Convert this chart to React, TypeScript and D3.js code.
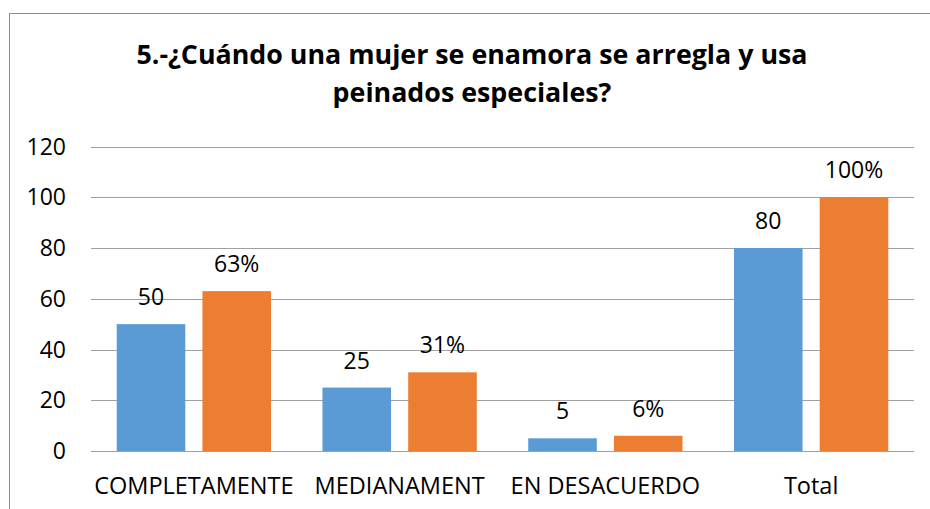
import React, { useEffect, useRef } from 'react';
import * as d3 from 'd3';

const categories = ['COMPLETAMENTE', 'MEDIANAMENT', 'EN DESACUERDO', 'Total'];
const counts = [50, 25, 5, 80];
const percents = [63, 31, 6, 100];
const yTicks = [0, 20, 40, 60, 80, 100, 120];
const titleLines = ['5.-¿Cuándo una mujer se enamora se arregla y usa', 'peinados especiales?'];

const BLUE = '#5b9bd5';
const ORANGE = '#ed7d31';
const FONT = '"Open Sans", sans-serif';

export default function App() {
  const ref = useRef<SVGSVGElement>(null);

  useEffect(() => {
    const el = ref.current;
    if (!el) return;
    const svg = d3.select(el);
    svg.selectAll('*').remove();

    const width = 930, height = 509;
    const plot = {left: 91, right: 914, top: 146.5, bottom: 451};

    // chart frame (extends past the picture on right and bottom)
    svg.append('rect').attr('x', 9.5).attr('y', 13.5).attr('width', width + 20).attr('height', height + 20)
      .attr('fill', '#fff').attr('stroke', '#8c8c8c').attr('stroke-width', 1);

    // title
    svg.append('text').attr('x', 472).attr('y', 64).attr('text-anchor', 'middle')
      .attr('font-family', FONT).attr('font-size', 26.8).attr('font-weight', 700).attr('fill', '#000')
      .selectAll('tspan').data(titleLines).enter().append('tspan')
      .attr('x', 472).attr('dy', (d, i) => i === 0 ? 0 : 38).text(d => d);

    const y = d3.scaleLinear().domain([0, 120]).range([plot.bottom, plot.top]);
    const x0 = d3.scaleBand<string>().domain(categories).range([plot.left, plot.right]).padding(0);
    const x1 = d3.scaleBand<string>().domain(['n', 'p']).range([0, x0.bandwidth()])
      .paddingInner(0.2).paddingOuter(0.3);

    // gridlines
    const g = svg.append('g');
    g.selectAll('.grid').data(yTicks).enter().append('line').attr('class', 'grid')
      .attr('x1', plot.left).attr('x2', plot.right)
      .attr('y1', d => Math.round(y(d)) + 0.5).attr('y2', d => Math.round(y(d)) + 0.5)
      .attr('stroke', '#a0a0a0').attr('stroke-width', 1);

    // y tick labels
    g.selectAll('.ytick').data(yTicks).enter().append('text').attr('class', 'ytick')
      .attr('x', 66).attr('y', d => y(d) + 8).attr('text-anchor', 'end')
      .attr('font-family', FONT).attr('font-size', 23).attr('fill', '#000').text(d => d);

    const rows = categories.map((c, i) => ({c, n: counts[i], p: percents[i]}));
    const groups = g.selectAll('.cat').data(rows).enter().append('g')
      .attr('transform', d => `translate(${x0(d.c)},0)`);

    groups.append('rect').attr('x', x1('n')!).attr('width', x1.bandwidth())
      .attr('y', d => y(d.n)).attr('height', d => y(0) - y(d.n)).attr('fill', BLUE);
    groups.append('rect').attr('x', x1('p')!).attr('width', x1.bandwidth())
      .attr('y', d => y(d.p)).attr('height', d => y(0) - y(d.p)).attr('fill', ORANGE);

    groups.append('text').attr('x', x1('n')! + x1.bandwidth() / 2).attr('y', d => y(d.n) - 19)
      .attr('text-anchor', 'middle').attr('font-family', FONT).attr('font-size', 23).attr('fill', '#000')
      .text(d => d.n);
    groups.append('text').attr('x', x1('p')! + x1.bandwidth() / 2).attr('y', d => y(d.p) - 19)
      .attr('text-anchor', 'middle').attr('font-family', FONT).attr('font-size', 23).attr('fill', '#000')
      .text(d => `${d.p}%`);

    // category labels
    g.selectAll('.xlab').data(categories).enter().append('text').attr('class', 'xlab')
      .attr('x', d => x0(d)! + x0.bandwidth() / 2).attr('y', 494).attr('text-anchor', 'middle')
      .attr('font-family', FONT).attr('font-size', 23.5).attr('fill', '#000').text(d => d);
  }, []);

  return (
    <svg ref={ref} width={930} height={509}
      style={{position: 'absolute', left: 0, top: 0, background: '#fff'}} />
  );
}
